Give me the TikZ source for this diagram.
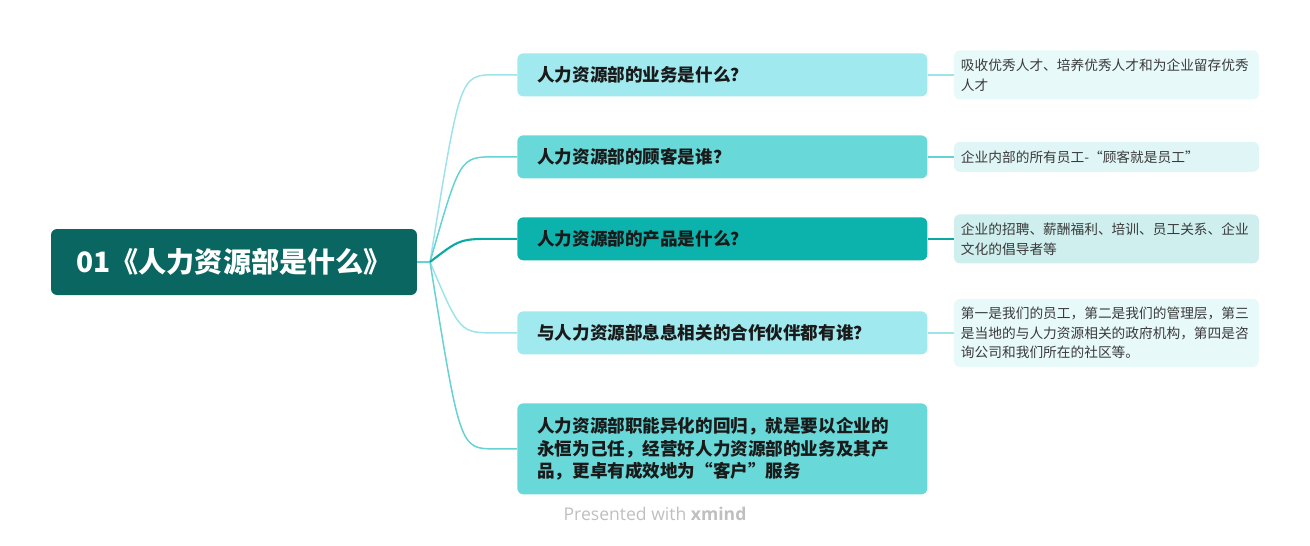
\documentclass[tikz,border=0pt]{standalone}
\usepackage{fontspec}
\setmainfont{Noto Sans CJK SC}
\newfontfamily\markfont{Open Sans}
\XeTeXlinebreaklocale "zh"
\usepackage{xcolor}
\definecolor{rootColor}{HTML}{0A6660}
\definecolor{topicLight}{HTML}{A0E9EF}
\definecolor{topicMid}{HTML}{68D8D8}
\definecolor{topicDark}{HTML}{0CB2AC}
\definecolor{noteLight}{HTML}{E8F9FA}
\definecolor{noteMid}{HTML}{DFF5F6}
\definecolor{noteDark}{HTML}{CFEEEE}
\definecolor{lineLight}{HTML}{9FE3EA}
\definecolor{lineMid}{HTML}{66D2D2}
\definecolor{lineDark}{HTML}{0BA9A3}
\definecolor{textDark}{HTML}{1A1A1A}
\definecolor{noteText}{HTML}{3A3A3A}
\usetikzlibrary{positioning,calc}
\tikzset{
  rootBox/.style={
    rectangle,
    rounded corners=0.12cm,
    fill=rootColor,
    text=white,
    font=\fontsize{16}{19}\selectfont\bfseries,
    minimum width=7.32cm,
    minimum height=1.32cm,
    align=center
 },
  topicBox/.style={
    rectangle,
    rounded corners=0.12cm,
    anchor=north west,
    text width=7.4cm,
    inner xsep=0.4cm,
    inner ysep=0pt,
    minimum height=0.86cm,
    align=left,
    text=textDark,
    font=\fontsize{10}{13}\selectfont\bfseries
 },
  noteBox/.style={
    rectangle,
    rounded corners=0.12cm,
    text width=5.82cm,
    inner xsep=0.14cm,
    inner ysep=0pt,
    align=left,
    text=noteText,
    font=\fontsize{7.8}{11.3}\selectfont
 },
  branchLine/.style={
    line width=0.85pt
 }
}

\begin{document}
\begin{tikzpicture}[x=0.02cm, y=-0.02cm]
  \useasboundingbox (0,0) rectangle (1310,545);

  \node[rootBox] (root) at (234,262) {01《人力资源部是什么》};
  \coordinate (j) at (430,262);

  \node[topicBox, fill=topicLight] (q1) at (517,53) {人力资源部的业务是什么？};
  \node[topicBox, fill=topicMid] (q2) at (517,135) {人力资源部的顾客是谁？};
  \node[topicBox, fill=topicDark] (q3) at (517,217) {人力资源部的产品是什么？};
  \node[topicBox, fill=topicLight] (q4) at (517,311) {与人力资源部息息相关的合作伙伴都有谁？};
  \node[topicBox, fill=topicMid, minimum height=1.82cm] (q5) at (517,403)
    {人力资源部职能异化的回归，就是要以企业的\\永恒为己任，经营好人力资源部的业务及其产\\品，更卓有成效地为“客户”服务};

  \node[noteBox, fill=noteLight, minimum height=0.98cm, right=0.52cm of q1] (a1)
    {吸收优秀人才、培养优秀人才和为企业留存优秀\\人才};
  \node[noteBox, fill=noteMid, minimum height=0.6cm, right=0.52cm of q2] (a2)
    {企业内部的所有员工-“顾客就是员工”};
  \node[noteBox, fill=noteDark, minimum height=0.98cm, right=0.52cm of q3] (a3)
    {企业的招聘、薪酬福利、培训、员工关系、企业\\文化的倡导者等};
  \node[noteBox, fill=noteLight, minimum height=1.36cm, right=0.52cm of q4] (a4)
    {第一是我们的员工，第二是我们的管理层，第三\\是当地的与人力资源相关的政府机构，第四是咨\\询公司和我们所在的社区等。};

  % branches
  \draw[branchLine, lineMid] (root.east) -- (j);
  \foreach \n/\c in {q1/lineLight, q2/lineMid, q4/lineLight, q5/lineMid}
    \draw[branchLine, \c] (j) .. controls ($(\n.west)+(-57,0)$) .. ($(\n.west)+(-22,0)$) -- (\n.west);
  \draw[branchLine, lineDark, line width=1.2pt] (j) .. controls ($(q3.west)+(-57,0)$) .. ($(q3.west)+(-22,0)$) -- (q3.west);

  % notes
  \draw[branchLine, lineLight] (q1.east) -- (a1.west);
  \draw[branchLine, lineMid] (q2.east) -- (a2.west);
  \draw[branchLine, lineDark, line width=1.2pt] (q3.east) -- (a3.west);
  \draw[branchLine, lineLight] (q4.east) -- (a4.west);

  \node[text=black!25, font=\markfont\fontsize{10}{12}\selectfont] (mark) at (655,514)
    {Presented with \textbf{xmind}};
\end{tikzpicture}
\end{document}
